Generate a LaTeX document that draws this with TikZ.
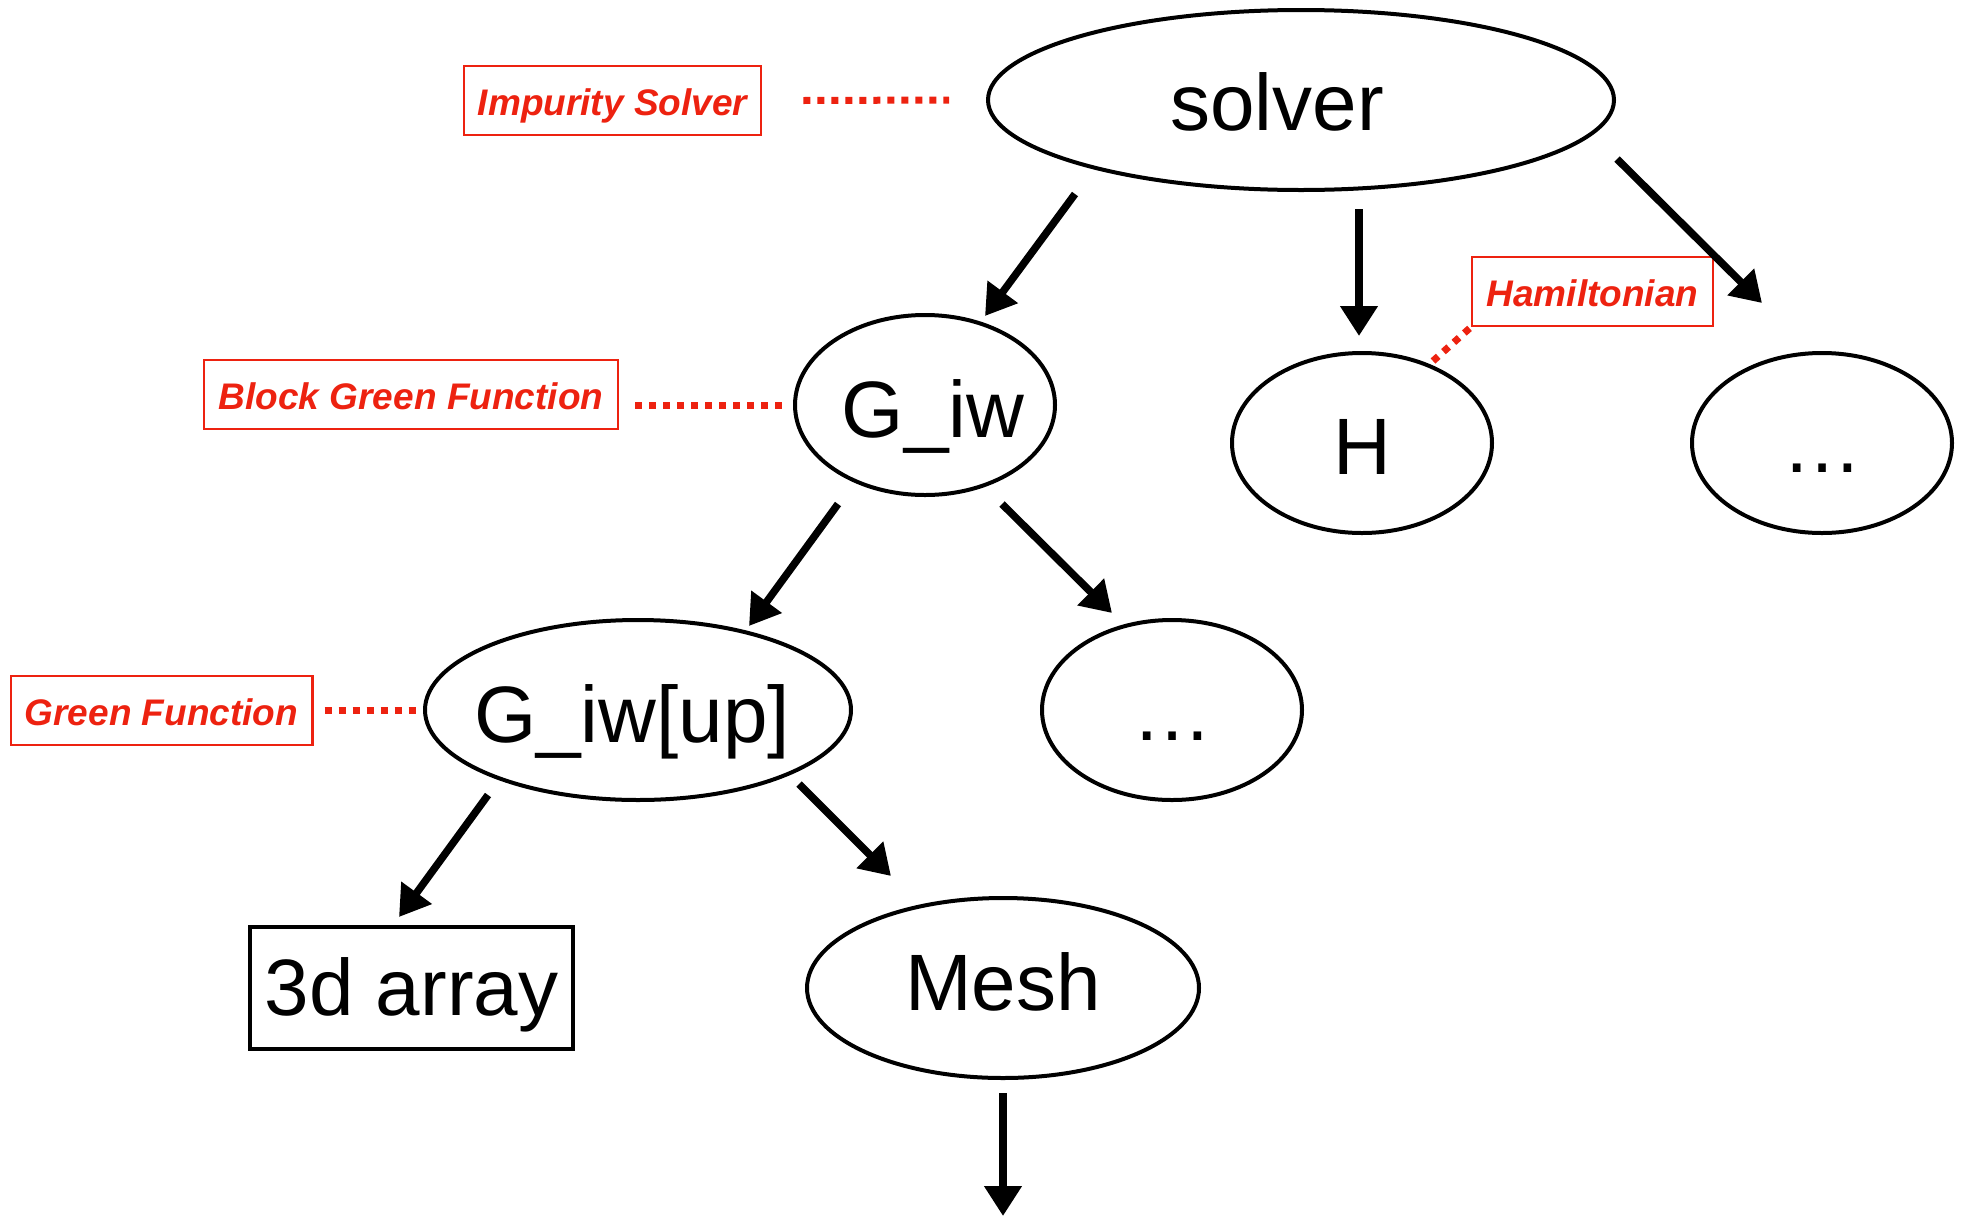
\documentclass[tikz,border=0pt]{standalone}
\usepackage{fontspec}
\setmainfont{Liberation Sans}
\usetikzlibrary{shapes.geometric,arrows.meta,calc}
\definecolor{tagred}{RGB}{237,34,16}
% zero-width text so the ellipse size comes only from the minimum size
\newcommand\zw[1]{\makebox[0pt]{#1}}

\begin{document}
\begin{tikzpicture}[x=1pt,y=-1pt,
  obj/.style={draw, line width=4pt, ellipse, inner sep=0pt, outer sep=0pt,
              minimum width=260pt, minimum height=180pt,
              text height=62pt, text depth=0pt,
              font=\fontsize{80}{96}\selectfont},
  arrbox/.style={draw, line width=4pt, rectangle, inner sep=0pt,
              minimum width=323pt, minimum height=122pt,
              text height=54pt, text depth=0pt,
              font=\fontsize{80}{96}\selectfont},
  tag/.style={draw=tagred, line width=2.6pt, text=tagred, rectangle,
              inner xsep=14pt, inner ysep=0pt, minimum height=69pt,
              text height=29pt, text depth=0pt,
              font=\fontsize{37}{44}\selectfont\bfseries\itshape},
  arr/.style={line width=7.5pt, -{Triangle[length=30pt,width=36pt]}},
  dotline/.style={draw=tagred, line width=7pt, dash pattern=on 7pt off 7pt}
]
\useasboundingbox (0,0) rectangle (1966,1216);

% tree nodes
\node[obj, minimum width=626pt, text height=60pt] (solver) at (1301,100) {\zw{\kern-48pt solver}};
\node[obj, text height=64pt] (giw) at (925,405) {\zw{\kern16pt G\_iw}};
\node[obj] (ham) at (1362,443) {\zw{H}};
\node[obj, text height=58pt] (more1) at (1822,443) {\zw{…}};
\node[obj, minimum width=426pt, text height=64pt] (gup) at (638,710) {\zw{\kern-12pt G\_iw[up]}};
\node[obj, text height=60pt] (more2) at (1172,710) {\zw{…}};
\node[arrbox] (arr3d) at (411.5,988) {3d array};
\node[obj, minimum width=392pt, text height=44pt] (mesh) at (1003,988) {\zw{Mesh}};
\coordinate (meshout) at (1003,1216);

% annotation tags
\node[tag, minimum width=297pt] (timp) at (612.5,100.5) {Impurity Solver};
\node[tag, minimum width=414pt] (tblk) at (411,394.5) {Block Green Function};
\node[tag, minimum width=301pt] (tgrn) at (161.5,710.5) {Green Function};
\node[tag, minimum width=241pt] (tham) at (1592.5,291.5) {Hamiltonian};

% dotted leaders from tags to objects
\draw[dotline] ($(timp.east)+(41,0)$) -- ($(solver.west)+(-39,0)$);
\draw[dotline] ($(tblk.east |- giw.west)+(16,0)$) -- ($(giw.west)+(-11,0)$);
\draw[dotline] ($(tgrn.east |- gup.west)+(11,0)$) -- ($(gup.west)+(-7,0)$);
\draw[dotline] ($(ham.center)+(71,-82)$) -- (tham.south west);

% containment arrows
\draw[arr] ($(solver.center)+(-226,94)$) -- ($(giw.center)+(60,-89)$);
\draw[arr] ($(solver.center)+(58,109)$) -- ($(ham.center)+(-3,-107)$);
\draw[arr] ($(solver.center)+(316,59)$) -- ($(more1.center)+(-60,-140)$);
\draw[arr] ($(giw.center)+(-87,99)$) -- ($(gup.center)+(111,-84)$);
\draw[arr] ($(giw.center)+(77,99)$) -- ($(more2.center)+(-60,-97)$);
\draw[arr] ($(gup.center)+(-150,85)$) -- ($(arr3d.center)+(-12.5,-71)$);
\draw[arr] ($(gup.center)+(161,74)$) -- ($(mesh.center)+(-112,-112)$);
\draw[arr] ($(mesh.center)+(0,105)$) -- (meshout);
\end{tikzpicture}
\end{document}
